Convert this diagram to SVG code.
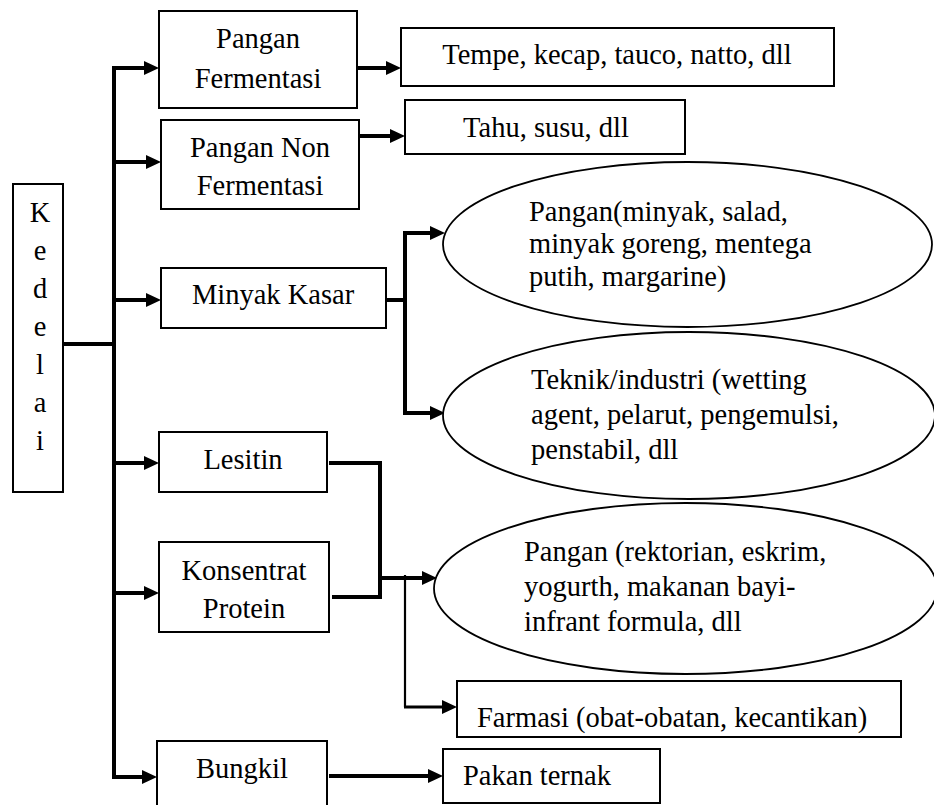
<svg xmlns="http://www.w3.org/2000/svg" width="934" height="805" viewBox="0 0 934 805">
<style>
.box{fill:#fff;stroke:#000;stroke-width:2}
.ell{fill:#fff;stroke:#000;stroke-width:1.8}
.c{text-anchor:middle}
.ln{fill:none;stroke:#000;stroke-width:4}
.thin{fill:none;stroke:#000;stroke-width:2.2}
.ar{fill:none;stroke:#000;stroke-width:4;marker-end:url(#ah)}
</style>
<defs>
<marker id="ah" markerUnits="userSpaceOnUse" markerWidth="16" markerHeight="16" refX="0" refY="7" orient="auto" viewBox="0 0 16 14">
<path d="M0,0 L15,7 L0,14 z" fill="#000"/>
</marker>
</defs>
<rect width="934" height="805" fill="#fff"/>
<g id="connectors">
<path class="ln" d="M63,344 H114"/>
<path class="ln" d="M114,66 V779"/>
<path class="ar" d="M112,68 H144"/>
<path class="ar" d="M112,162 H146"/>
<path class="ar" d="M112,300 H146"/>
<path class="ar" d="M112,463 H144"/>
<path class="ar" d="M112,593 H144"/>
<path class="ar" d="M112,777 H142"/>
<path class="ar" d="M357,68 H386"/>
<path class="ar" d="M359,136 H390"/>
<path class="ln" d="M386,300 H405"/>
<path class="ln" d="M405,231 V415"/>
<path class="ar" d="M403,233 H430"/>
<path class="ar" d="M403,413 H430"/>
<path class="ln" d="M329,463 H380 V597 H332"/>
<path class="ar" d="M378,578 H422"/>
<path class="thin" d="M405,575 V707"/>
<path class="ar" d="M404,707 H442" style="stroke-width:3"/>
<path class="ar" d="M329,776 H428"/>
</g>
<g font-family="'Liberation Serif', 'Times New Roman', 'DejaVu Serif', serif" font-size="28.5" fill="#000">
<g id="kedelai">
<rect class="box" x="13" y="184" width="50" height="308"/>
<text class="c" x="40" y="222">K</text>
<text class="c" x="40" y="260">e</text>
<text class="c" x="40" y="298">d</text>
<text class="c" x="40" y="336">e</text>
<text class="c" x="40" y="374">l</text>
<text class="c" x="40" y="412">a</text>
<text class="c" x="40" y="450">i</text>
</g>
<g id="pangan-fermentasi">
<rect class="box" x="159" y="11" width="198" height="97"/>
<text class="c" x="258" y="48">Pangan</text>
<text class="c" x="258" y="88">Fermentasi</text>
</g>
<g id="tempe">
<rect class="box" x="401" y="28" width="433" height="58"/>
<text class="c" x="617" y="64">Tempe, kecap, tauco, natto, dll</text>
</g>
<g id="pangan-non-fermentasi">
<rect class="box" x="161" y="120" width="198" height="89"/>
<text class="c" x="260" y="157">Pangan Non</text>
<text class="c" x="260" y="195">Fermentasi</text>
</g>
<g id="tahu">
<rect class="box" x="405" y="100" width="280" height="54"/>
<text class="c" x="546" y="137">Tahu, susu, dll</text>
</g>
<g id="minyak-kasar">
<rect class="box" x="161" y="268" width="225" height="60"/>
<text class="c" x="273" y="304">Minyak Kasar</text>
</g>
<g id="pangan-minyak">
<ellipse class="ell" cx="687.5" cy="244.5" rx="244.5" ry="82.5"/>
<text x="529" y="221">Pangan(minyak, salad,</text>
<text x="529" y="253">minyak goreng, mentega</text>
<text x="529" y="286">putih, margarine)</text>
</g>
<g id="teknik-industri">
<ellipse class="ell" cx="689" cy="415.5" rx="246" ry="83.5"/>
<text x="531" y="389">Teknik/industri (wetting</text>
<text x="531" y="424">agent, pelarut, pengemulsi,</text>
<text x="531" y="459">penstabil, dll</text>
</g>
<g id="lesitin">
<rect class="box" x="159" y="432" width="168" height="60"/>
<text class="c" x="243" y="469">Lesitin</text>
</g>
<g id="konsentrat-protein">
<rect class="box" x="159" y="542" width="170" height="90"/>
<text class="c" x="244" y="580">Konsentrat</text>
<text class="c" x="244" y="618">Protein</text>
</g>
<g id="pangan-rektorian">
<ellipse class="ell" cx="685.5" cy="588.5" rx="251.5" ry="85.5"/>
<text x="524" y="561">Pangan (rektorian, eskrim,</text>
<text x="524" y="596">yogurth, makanan bayi-</text>
<text x="524" y="631">infrant formula, dll</text>
</g>
<g id="farmasi">
<rect class="box" x="457" y="681" width="444" height="56"/>
<text x="477" y="727">Farmasi (obat-obatan, kecantikan)</text>
</g>
<g id="bungkil">
<rect class="box" x="157" y="741" width="170" height="70"/>
<text class="c" x="242" y="778">Bungkil</text>
</g>
<g id="pakan-ternak">
<rect class="box" x="443" y="749" width="217" height="54"/>
<text x="463" y="785">Pakan ternak</text>
</g>
</g>
</svg>
